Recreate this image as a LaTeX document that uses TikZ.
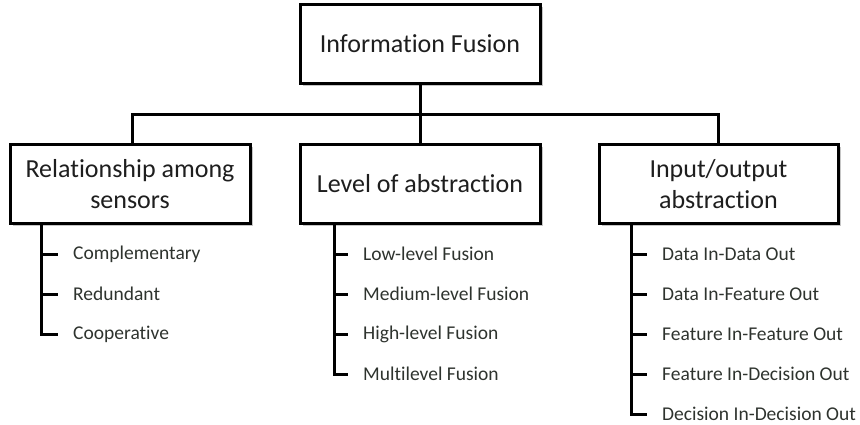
\documentclass[tikz,border=0pt]{standalone}
\usepackage{fontspec}
\setmainfont{Carlito}[Ligatures=NoCommon]
\usetikzlibrary{shadows}
\definecolor{itemtext}{HTML}{2E332E}
\definecolor{boxtext}{HTML}{1E1E1E}
\tikzset{
  box/.style={draw=black, line width=3pt, fill=white, minimum height=79pt,
    inner sep=0pt, align=center, text=boxtext, font=\fontsize{26}{31}\selectfont,
    drop shadow={shadow xshift=2.5pt, shadow yshift=-2.5pt, fill=black!50, opacity=0.45}},
  wire/.style={line width=3pt, line join=miter},
  item/.style={anchor=west, inner sep=0pt, text=itemtext, font=\fontsize{19.5}{22}\selectfont}
}
\begin{document}
\begin{tikzpicture}[x=1pt, y=-1pt]
\useasboundingbox (0,0) rectangle (860,425);

% boxes
\node[box, minimum width=240pt] (top) at (420,44) {Information Fusion};
\node[box, minimum width=240pt] (rel) at (130,184) {Relationship among\\sensors};
\node[box, minimum width=240pt] (lev) at (420,184) {Level of abstraction};
\node[box, minimum width=239pt] (io)  at (718.5,184) {Input/output\\abstraction};

% tree connectors
\coordinate (bus) at (420,115);
\draw[wire] (top.south) -- (lev.north);
\draw[wire] ([xshift=2pt]rel.north) |- (bus) -| (io.north);

% items: relationship among sensors
\node[item] (r1) at (73,254) {Complementary};
\node[item] (r2) at (73,294) {Redundant};
\node[item] (r3) at (73,334) {Cooperative};
% items: level of abstraction
\node[item] (a1) at (363,254) {Low-level Fusion};
\node[item] (a2) at (363,294) {Medium-level Fusion};
\node[item] (a3) at (363,334) {High-level Fusion};
\node[item] (a4) at (363,374) {Multilevel Fusion};
% items: input/output abstraction
\node[item] (o1) at (662,254) {Data In-Data Out};
\node[item] (o2) at (662,294) {Data In-Feature Out};
\node[item] (o3) at (662,334) {Feature In-Feature Out};
\node[item] (o4) at (662,374) {Feature In-Decision Out};
\node[item] (o5) at (662,414) {Decision In-Decision Out};

% list spines and ticks
\coordinate (rs) at (41,222);
\coordinate (ls) at (334,222);
\coordinate (os) at (631,222);
\draw[wire] (rs) |- ([xshift=-15pt]r3.west);
\foreach \n in {r1,r2}
  \draw[wire] ([xshift=-33pt]\n.west) -- ([xshift=-15pt]\n.west);
\draw[wire] (ls) |- ([xshift=-15pt]a4.west);
\foreach \n in {a1,a2,a3}
  \draw[wire] ([xshift=-30pt]\n.west) -- ([xshift=-15pt]\n.west);
\draw[wire] (os) |- ([xshift=-15pt]o5.west);
\foreach \n in {o1,o2,o3,o4}
  \draw[wire] ([xshift=-32pt]\n.west) -- ([xshift=-15pt]\n.west);
\end{tikzpicture}
\end{document}
